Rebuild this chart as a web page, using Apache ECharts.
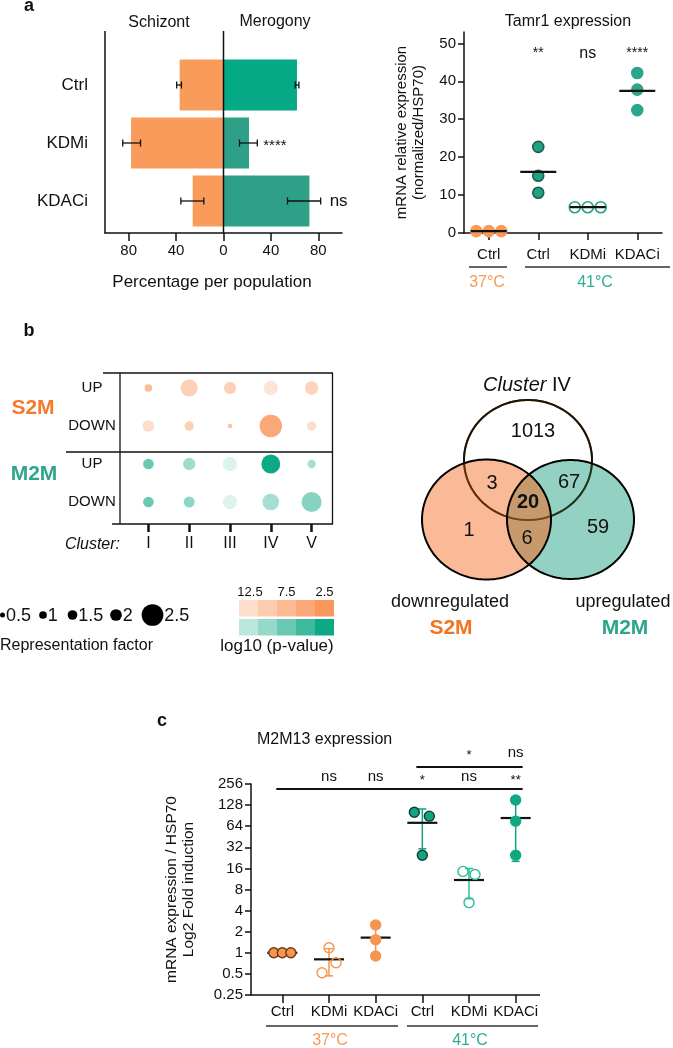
<!DOCTYPE html>
<html>
<head>
<meta charset="utf-8">
<script src="https://cdn.jsdelivr.net/npm/echarts@6.0.0/dist/echarts.min.js"></script>
<style>html,body{margin:0;padding:0;background:#fff;}#chart{width:673px;height:1048px;}</style>
</head>
<body>
<div id="chart"></div>
<script>
// ================= DATA =================
// Panel a (left): percentage per population
const popCategories = ['Ctrl', 'KDMi', 'KDACi'];
const schizontPct = [37, 78, 26];
const schizontErrLow = [35.5, 70, 16.6];
const schizontErrHigh = [39.5, 85, 36];
const merogonyPct = [62, 21.5, 72.5];
const merogonyErrLow = [60.5, 13.5, 54];
const merogonyErrHigh = [63.6, 28.5, 82];
const merogonySig = ['', '****', 'ns'];
const pctTicks = [-80, -40, 0, 40, 80];

// Panel a (right): Tamr1 expression
const tamrCategories = ['Ctrl', 'Ctrl', 'KDMi', 'KDACi'];
const tamrCtrl37 = [0.5, 0.5, 0.5];
const tamrCtrl41 = [22.7, 15.1, 10.6];
const tamrKDMi41 = [6.8, 6.8, 6.8];
const tamrKDACi41 = [42.2, 37.8, 32.4];
const tamrSig = ['', '**', 'ns', '****'];
const tamrTicks = [0, 10, 20, 30, 40, 50];

// Panel b: cluster dot plot (representation factor, log10 p-value)
const clusters = ['I', 'II', 'III', 'IV', 'V'];
const dotRows = ['UP', 'DOWN', 'UP', 'DOWN'];
const s2mUpRF = [1.0, 2.27, 2.03, 2.13, 2.08];
const s2mDownRF = [2.0, 1.4, 0.45, 2.53, 1.4];
const m2mUpRF = [1.75, 2.03, 2.13, 2.36, 1.15];
const m2mDownRF = [1.75, 1.83, 2.13, 2.25, 2.42];
const s2mUpP = [8, 10.5, 10.5, 13.5, 11];
const s2mDownP = [12.5, 10.5, 8.5, 5, 12.5];
const m2mUpP = [7.5, 10.5, 15, 2.5, 11];
const m2mDownP = [7.5, 9.5, 15, 11, 9];
const rfLegend = [0.5, 1, 1.5, 2, 2.5];
const pStops = [2.5, 5, 7.5, 10, 12.5, 15];
const pLegend = [12.5, 10, 7.5, 5, 2.5];
const pLegendLabels = ['12.5', '', '7.5', '', '2.5'];

// Venn (Cluster IV / downregulated S2M / upregulated M2M)
const vennRegions = ['IV only', 'IV&S2M', 'IV&M2M', 'all', 'S2M only', 'S2M&M2M', 'M2M only'];
const vennCounts = [1013, 3, 67, 20, 1, 6, 59];

// Panel c: M2M13 expression
const m2m13Categories = ['Ctrl', 'KDMi', 'KDACi', 'Ctrl', 'KDMi', 'KDACi'];
const m2m13Ctrl37 = [1, 1, 1];
const m2m13KDMi37 = [1.18, 0.72, 0.52];
const m2m13KDACi37 = [2.5, 1.54, 0.9];
const m2m13Ctrl41 = [101, 89, 24.6];
const m2m13KDMi41 = [14.5, 13.1, 5.2];
const m2m13KDACi41 = [151, 75.6, 24.6];
const log2Ticks = [0.25, 0.5, 1, 2, 4, 8, 16, 32, 64, 128, 256];
const sigLowerC = ['', 'ns', 'ns', '*', 'ns', '**'];
const sigUpperC = ['', '', '', '', '*', 'ns'];
const bracketFromC = [0, 3];
const bracketToC = [5, 5];

// ================= STYLES =================
const FONT = "'Liberation Sans', Arial, Helvetica, sans-serif";
const INK = '#111';
const SCHIZ = '#F99B5B';
const merogonyColors = ['#05A985', '#2EA088', '#2EA088'];
const ORANGE = '#F7944F';
const orangeStops = ['#F9975C', '#FBA878', '#FCBA93', '#FDCCAF', '#FDDECD', '#FEEDE4'];
const greenStops = ['#0DA985', '#3FB99D', '#6BC9B3', '#97D9C9', '#BDE7DC', '#DDF3EC'];
const rfSizesPx = [5, 7.7, 9.7, 11.7, 21.7];
const axisLS = { color: INK, width: 1.5 };

const tamrStyles = [
  { fill: '#F99A57', border: '#F99A57', jitter: [-12.5, 0, 12.5] },
  { fill: '#1EA283', border: '#1E5E4E', jitter: [0, 0, 0] },
  { fill: 'rgba(255,255,255,0)', border: '#2BA58A', jitter: [-13, 0, 13] },
  { fill: '#2BA58B', border: '#2BA58B', jitter: [0, 0, 0] }
];
const cStyles = [
  { fill: ORANGE, border: '#6B3A14', jitter: [-8.5, 0, 8.5], bar: ORANGE },
  { fill: 'rgba(255,255,255,0)', border: ORANGE, jitter: [0, 7, -7], bar: ORANGE },
  { fill: ORANGE, border: ORANGE, jitter: [0, 0, 0], bar: ORANGE },
  { fill: '#13A380', border: '#0E3E33', jitter: [-8, 7, 0], bar: '#13A380' },
  { fill: 'rgba(255,255,255,0)', border: '#2DBC9C', jitter: [-6, 6, 0], bar: '#2DBC9C' },
  { fill: '#0FA882', border: '#0FA882', jitter: [0, 0, 0], bar: '#0FA882' }
];

// ================= HELPERS =================
const mean = a => a.reduce((s, v) => s + v, 0) / a.length;
const sd = a => { const m = mean(a); return Math.sqrt(a.reduce((s, v) => s + (v - m) * (v - m), 0) / (a.length - 1)); };
function sizeForRF(rf) {
  const xs = rfLegend, ys = rfSizesPx, n = xs.length - 1;
  if (rf <= xs[0]) return ys[0] + (rf - xs[0]) * (ys[1] - ys[0]) / (xs[1] - xs[0]);
  for (let i = 1; i <= n; i++) if (rf <= xs[i]) return ys[i - 1] + (rf - xs[i - 1]) * (ys[i] - ys[i - 1]) / (xs[i] - xs[i - 1]);
  return ys[n] + (rf - xs[n]) * (ys[n] - ys[n - 1]) / (xs[n] - xs[n - 1]);
}
const T = (text, o) => Object.assign({ text, fontSize: 16, fontFamily: FONT, fill: INK, align: 'center', verticalAlign: 'middle', textAlign: 'center', textVerticalAlign: 'middle' }, o || {});

// ================= SERIES =================
const series = [];
const add = s => { series.push(Object.assign({ animation: false, silent: true }, s)); return series.length - 1; };

// a-left bars
add({ type: 'bar', xAxisIndex: 0, yAxisIndex: 0, barWidth: 51, barGap: '-100%', z: 2,
  data: schizontPct.map(v => -v), itemStyle: { color: SCHIZ } });
add({ type: 'bar', xAxisIndex: 0, yAxisIndex: 0, barWidth: 51, barGap: '-100%', z: 2,
  data: merogonyPct.map((v, i) => ({ value: v, itemStyle: { color: merogonyColors[i] } })) });
add({ type: 'custom', xAxisIndex: 0, yAxisIndex: 0, z: 5, clip: false, encode: { x: [1, 2], y: 0 },
  data: popCategories.map((c, i) => [i, -schizontErrHigh[i], -schizontErrLow[i], -1])
    .concat(popCategories.map((c, i) => [i, merogonyErrLow[i], merogonyErrHigh[i], i])),
  renderItem: (params, api) => {
    const cat = api.value(0), a = api.coord([api.value(1), cat]), b = api.coord([api.value(2), cat]);
    const st = { stroke: INK, lineWidth: 1.3 }, cap = 3.5;
    const ch = [
      { type: 'line', shape: { x1: a[0], y1: a[1], x2: b[0], y2: b[1] }, style: st },
      { type: 'line', shape: { x1: a[0], y1: a[1] - cap, x2: a[0], y2: a[1] + cap }, style: st },
      { type: 'line', shape: { x1: b[0], y1: b[1] - cap, x2: b[0], y2: b[1] + cap }, style: st }
    ];
    const si = api.value(3);
    if (si >= 0 && merogonySig[si]) {
      const isNs = merogonySig[si] === 'ns';
      ch.push({ type: 'text', x: b[0] + (isNs ? 9 : 6), y: b[1] + (isNs ? 0 : 3),
        style: T(merogonySig[si], { fontSize: isNs ? 17 : 15, align: 'left', textAlign: 'left' }) });
    }
    return { type: 'group', children: ch };
  } });

// a-right scatter
[tamrCtrl37, tamrCtrl41, tamrKDMi41, tamrKDACi41].forEach((vals, g) => {
  const st = tamrStyles[g];
  add({ type: 'scatter', xAxisIndex: 1, yAxisIndex: 1, symbolSize: 11, z: 3,
    data: vals.map((v, k) => ({ value: [g, v], symbolOffset: [st.jitter[k], 0] })),
    itemStyle: { color: st.fill, borderColor: st.border, borderWidth: 1.6, opacity: 1 } });
});
add({ type: 'scatter', xAxisIndex: 1, yAxisIndex: 1, symbol: 'rect', symbolSize: [36, 2.2], z: 4,
  data: [tamrCtrl37, tamrCtrl41, tamrKDMi41, tamrKDACi41].map((vals, g) => [g, mean(vals)]),
  itemStyle: { color: INK, opacity: 1 } });
add({ type: 'custom', xAxisIndex: 1, yAxisIndex: 1, z: 5, clip: false, encode: { x: 0, y: 1 },
  data: tamrSig.map((s, i) => [i, 50]),
  renderItem: (params, api) => {
    const p = api.coord([api.value(0), api.value(1)]);
    const s = tamrSig[params.dataIndex];
    if (!s) return null;
    return { type: 'text', x: p[0], y: p[1] + 10, style: T(s, { fontSize: s === 'ns' ? 16 : 14 }) };
  } });

// b dot plot
const s2mData = [], m2mData = [];
clusters.forEach((c, ci) => {
  s2mData.push([ci, 0, s2mUpRF[ci], s2mUpP[ci]]);
  s2mData.push([ci, 1, s2mDownRF[ci], s2mDownP[ci]]);
  m2mData.push([ci, 2, m2mUpRF[ci], m2mUpP[ci]]);
  m2mData.push([ci, 3, m2mDownRF[ci], m2mDownP[ci]]);
});
const iS2M = add({ type: 'scatter', xAxisIndex: 2, yAxisIndex: 2, data: s2mData, z: 3,
  symbolSize: v => sizeForRF(v[2]), itemStyle: { opacity: 1 } });
const iM2M = add({ type: 'scatter', xAxisIndex: 2, yAxisIndex: 2, data: m2mData, z: 3,
  symbolSize: v => sizeForRF(v[2]), itemStyle: { opacity: 1 } });

// c
const cGroups = [m2m13Ctrl37, m2m13KDMi37, m2m13KDACi37, m2m13Ctrl41, m2m13KDMi41, m2m13KDACi41];
add({ type: 'custom', xAxisIndex: 3, yAxisIndex: 3, z: 1, clip: false, encode: { x: 0, y: [1, 2] },
  data: cGroups.map((vals, g) => [g, mean(vals) - sd(vals), mean(vals) + sd(vals)]),
  renderItem: (params, api) => {
    const g = api.value(0), lo = api.value(1), hi = api.value(2);
    if (hi - lo < 1e-6) return null;
    const a = api.coord([g, hi]), b = api.coord([g, lo]);
    const st = { stroke: cStyles[g].bar, lineWidth: 1.5 }, cap = 4;
    return { type: 'group', children: [
      { type: 'line', shape: { x1: a[0], y1: a[1], x2: b[0], y2: b[1] }, style: st },
      { type: 'line', shape: { x1: a[0] - cap, y1: a[1], x2: a[0] + cap, y2: a[1] }, style: st },
      { type: 'line', shape: { x1: b[0] - cap, y1: b[1], x2: b[0] + cap, y2: b[1] }, style: st }
    ] };
  } });
add({ type: 'scatter', xAxisIndex: 3, yAxisIndex: 3, symbol: 'rect', symbolSize: [30, 2.2], z: 2,
  data: cGroups.map((vals, g) => [g, mean(vals)]), itemStyle: { color: INK, opacity: 1 } });
cGroups.forEach((vals, g) => {
  const st = cStyles[g];
  add({ type: 'scatter', xAxisIndex: 3, yAxisIndex: 3, symbolSize: 10, z: 3,
    data: vals.map((v, k) => ({ value: [g, v], symbolOffset: [st.jitter[k], 0] })),
    itemStyle: { color: st.fill, borderColor: st.border, borderWidth: 1.4, opacity: 1 } });
});
// significance brackets
add({ type: 'custom', xAxisIndex: 3, yAxisIndex: 3, z: 5, clip: false, encode: { x: [0, 1], y: 3 },
  data: bracketFromC.map((f, i) => [f, bracketToC[i], i, 256]),
  renderItem: (params, api) => {
    const a = api.coord([api.value(0), api.value(3)]), b = api.coord([api.value(1), api.value(3)]);
    const y = a[1] + (api.value(2) === 0 ? 5 : -17);
    return { type: 'line', shape: { x1: a[0] - 6, y1: y, x2: b[0] + 7, y2: y }, style: { stroke: INK, lineWidth: 2 } };
  } });
add({ type: 'custom', xAxisIndex: 3, yAxisIndex: 3, z: 5, clip: false, encode: { x: 0, y: 1 },
  data: m2m13Categories.map((c, i) => [i, 256]),
  renderItem: (params, api) => {
    const i = params.dataIndex, p = api.coord([api.value(0), api.value(1)]);
    const ch = [];
    const lo = sigLowerC[i], up = sigUpperC[i];
    if (lo) ch.push({ type: 'text', x: p[0], y: p[1] - (lo === 'ns' ? 7 : 4), style: T(lo, { fontSize: lo === 'ns' ? 15 : 13 }) });
    if (up) ch.push({ type: 'text', x: p[0], y: p[1] - (up === 'ns' ? 31 : 29), style: T(up, { fontSize: up === 'ns' ? 15 : 13 }) });
    return { type: 'group', children: ch };
  } });

// ================= OPTION =================
const grids = [
  { left: 105, top: 56, width: 237, height: 174 },
  { left: 464, top: 32, width: 198, height: 201 },
  { left: 128, top: 369, width: 204, height: 152 },
  { left: 259, top: 784, width: 280, height: 211 }
];
const lbl = o => Object.assign({ color: INK, fontFamily: FONT }, o);
const option = {
  animation: false,
  backgroundColor: '#fff',
  textStyle: { fontFamily: FONT, color: INK },
  grid: grids.map(g => Object.assign({ containLabel: false, outerBoundsMode: 'none' }, g)),
  xAxis: [
    { gridIndex: 0, type: 'value', min: -100, max: 100, offset: 3, splitLine: { show: false },
      axisLine: { show: true, lineStyle: axisLS },
      axisTick: { show: true, length: 8, customValues: pctTicks, lineStyle: axisLS },
      axisLabel: lbl({ customValues: pctTicks, formatter: v => String(Math.abs(v)), fontSize: 15, margin: 10 }) },
    { gridIndex: 1, type: 'category', data: tamrCategories,
      axisLine: { show: true, lineStyle: axisLS },
      axisTick: { show: true, alignWithLabel: true, interval: 0, length: 7, lineStyle: axisLS },
      axisLabel: lbl({ fontSize: 15, margin: 14, interval: 0, hideOverlap: false }) },
    { gridIndex: 2, type: 'category', data: clusters, offset: 3,
      axisLine: { show: false },
      axisTick: { show: true, alignWithLabel: true, interval: 0, length: 8, lineStyle: { color: INK, width: 2.5 } },
      axisLabel: lbl({ fontSize: 16, margin: 12, interval: 0 }) },
    { gridIndex: 3, type: 'category', data: m2m13Categories,
      axisLine: { show: false },
      axisTick: { show: true, alignWithLabel: true, interval: 0, length: 8, lineStyle: axisLS },
      axisLabel: lbl({ fontSize: 15, margin: 9, interval: 0, hideOverlap: false }) }
  ],
  yAxis: [
    { gridIndex: 0, type: 'category', data: popCategories, inverse: true,
      axisLine: { show: false },
      axisTick: { show: true, alignWithLabel: true, interval: 0, length: 7, lineStyle: axisLS },
      axisLabel: lbl({ fontSize: 17, margin: 17, interval: 0 }) },
    { gridIndex: 1, type: 'value', min: 0, max: 53, splitLine: { show: false },
      axisLine: { show: true, lineStyle: axisLS },
      axisTick: { show: true, length: 6, customValues: tamrTicks, lineStyle: axisLS },
      axisLabel: lbl({ customValues: tamrTicks, fontSize: 15, margin: 8 }),
      name: 'mRNA relative expression\n(normalized/HSP70)', nameLocation: 'middle', nameGap: 37,
      nameMoveOverlap: false,
      nameTextStyle: { fontSize: 15, lineHeight: 17, color: INK, fontFamily: FONT } },
    { gridIndex: 2, type: 'category', data: dotRows, inverse: true,
      axisLine: { show: false }, axisTick: { show: false },
      axisLabel: lbl({ fontSize: 15, margin: 36, align: 'center', interval: 0 }) },
    { gridIndex: 3, type: 'log', logBase: 2, min: 0.25, max: 256, offset: 8, splitLine: { show: false },
      axisLine: { show: true, lineStyle: axisLS },
      axisTick: { show: true, length: 6, customValues: log2Ticks, lineStyle: axisLS },
      axisLabel: lbl({ customValues: log2Ticks, fontSize: 15, margin: 8, formatter: v => String(+(+v).toPrecision(6)) }),
      name: 'mRNA expression / HSP70\nLog2 Fold induction', nameLocation: 'middle', nameGap: 54,
      nameMoveOverlap: false,
      nameTextStyle: { fontSize: 15.5, lineHeight: 17, color: INK, fontFamily: FONT } }
  ],
  visualMap: [
    { type: 'continuous', show: false, seriesIndex: iS2M, dimension: 3, min: pStops[0], max: pStops[pStops.length - 1], inRange: { color: orangeStops } },
    { type: 'continuous', show: false, seriesIndex: iM2M, dimension: 3, min: pStops[0], max: pStops[pStops.length - 1], inRange: { color: greenStops } }
  ],
  series
};

const chart = echarts.init(document.getElementById('chart'), null, { renderer: 'canvas' });
chart.setOption(option);

// ================= DECORATION (layout) =================
const els = [];
const text = (x, y, s, o, z) => els.push({ type: 'text', x, y, z: z || 20, silent: true, style: T(s, o) });
const line = (x1, y1, x2, y2, color, w, z) => els.push({ type: 'line', z: z || 20, silent: true, shape: { x1, y1, x2, y2 }, style: { stroke: color || INK, lineWidth: w || 1.5 } });

// panel letters
text(29, 6, 'a', { fontSize: 18, fontWeight: 'bold' });
text(29, 331, 'b', { fontSize: 18, fontWeight: 'bold' });
text(162, 721, 'c', { fontSize: 18, fontWeight: 'bold' });

// a-left
const zeroX = chart.convertToPixel({ xAxisIndex: 0 }, 0);
const leftX = chart.convertToPixel({ xAxisIndex: 0 }, -100);
line(leftX, 31, leftX, 233.5, INK, 1.5);
line(zeroX, 31, zeroX, 233, INK, 1.5);
text(159, 23, 'Schizont', { fontSize: 16 });
text(275, 22, 'Merogony', { fontSize: 16 });
text(212, 282, 'Percentage per population', { fontSize: 17 });

// a-right
text(568, 22, 'Tamr1 expression', { fontSize: 16 });
line(469, 267, 507, 267, '#333', 1.5);
line(525, 267, 670, 267, '#333', 1.5);
text(487, 283, '37°C', { fontSize: 16, fill: '#F79A55' });
text(595, 283, '41°C', { fontSize: 16, fill: '#2FAE93' });

// b dot plot frame
line(103, 373, 333, 373, INK, 1.3);
line(66, 452, 333, 452, INK, 1.3);
line(120, 373, 120, 524, INK, 1.3);
line(332.5, 373, 332.5, 524, INK, 1.3);
line(112, 524, 333, 524, INK, 1.5);
text(33, 408, 'S2M', { fontSize: 21, fontWeight: 'bold', fill: '#F47A2C' });
text(34, 474, 'M2M', { fontSize: 21, fontWeight: 'bold', fill: '#2FA68C' });
text(120, 545, 'Cluster:', { fontSize: 16, fontStyle: 'italic', align: 'right', textAlign: 'right' });

// b legends
const rfCenters = [2.5, 43, 72.5, 116, 152.5];
rfLegend.forEach((rf, i) => {
  const r = sizeForRF(rf) / 2;
  els.push({ type: 'circle', z: 20, silent: true, shape: { cx: rfCenters[i], cy: 615, r }, style: { fill: '#000' } });
  text(rfCenters[i] + r + 1, 616, String(rf), { fontSize: 18, align: 'left', textAlign: 'left' });
});
text(0, 646, 'Representation factor', { fontSize: 16, align: 'left', textAlign: 'left' });
pLegend.forEach((p, i) => {
  const k = pStops.indexOf(p);
  els.push({ type: 'rect', z: 20, silent: true, shape: { x: 239 + i * 19, y: 600, width: 19, height: 16.5 }, style: { fill: orangeStops[k] } });
  els.push({ type: 'rect', z: 20, silent: true, shape: { x: 239 + i * 19, y: 619, width: 19, height: 16.5 }, style: { fill: greenStops[k] } });
  if (pLegendLabels[i]) text(248.5 + i * 19 + (i === 0 ? 1.5 : 0), 592, pLegendLabels[i], { fontSize: 13 });
});
text(277, 646, 'log10 (p-value)', { fontSize: 17 });

// Venn
function ell(e, n) { const p = []; n = n || 180; for (let i = 0; i < n; i++) { const t = 2 * Math.PI * i / n; p.push([e.cx + e.rx * Math.cos(t), e.cy + e.ry * Math.sin(t)]); } return p; }
function inside(pt, e) { const dx = (pt[0] - e.cx) / e.rx, dy = (pt[1] - e.cy) / e.ry; return dx * dx + dy * dy <= 1.0001; }
const vTop = { cx: 528, cy: 460, rx: 64, ry: 60 };
const vLeft = { cx: 486.5, cy: 519.5, rx: 64.5, ry: 60 };
const vRight = { cx: 570.5, cy: 519.5, rx: 63.5, ry: 59.5 };
const poly = (pts, style, z) => els.push({ type: 'polygon', z, silent: true, shape: { points: pts }, style });
poly(ell(vTop), { fill: '#fff', stroke: '#000', lineWidth: 2 }, 10);
poly(ell(vLeft), { fill: 'rgba(245,130,65,0.55)' }, 11);
poly(ell(vRight), { fill: 'rgba(30,160,130,0.48)' }, 12);
let lens = ell(vLeft, 360).filter(p => inside(p, vRight)).concat(ell(vRight, 360).filter(p => inside(p, vLeft)));
const lc = [mean(lens.map(p => p[0])), mean(lens.map(p => p[1]))];
lens.sort((a, b) => Math.atan2(a[1] - lc[1], a[0] - lc[0]) - Math.atan2(b[1] - lc[1], b[0] - lc[0]));
poly(lens, { fill: 'rgba(216,147,97,0.75)' }, 13);
poly(ell(vTop), { fill: 'rgba(0,0,0,0)', stroke: 'rgba(60,30,0,0.6)', lineWidth: 2 }, 14);
poly(ell(vLeft), { fill: 'rgba(0,0,0,0)', stroke: '#000', lineWidth: 2 }, 15);
poly(ell(vRight), { fill: 'rgba(0,0,0,0)', stroke: '#000', lineWidth: 2 }, 15);
const vennLabelPos = [[533, 431], [492, 483], [569, 482], [528, 502], [469, 530], [527, 538], [598, 527]];
vennCounts.forEach((c, i) => text(vennLabelPos[i][0], vennLabelPos[i][1], String(c), { fontSize: 20, fontWeight: vennRegions[i] === 'all' ? 'bold' : 'normal' }));
els.push({ type: 'text', x: 527, y: 385, z: 20, silent: true,
  style: T('{i|Cluster} IV', { fontSize: 20, rich: { i: { fontStyle: 'italic', fontSize: 20, fontFamily: FONT, fill: INK } } }) });
text(450, 602, 'downregulated', { fontSize: 18 });
text(451, 628, 'S2M', { fontSize: 21, fontWeight: 'bold', fill: '#F4731F' });
text(623, 602, 'upregulated', { fontSize: 18 });
text(625, 628, 'M2M', { fontSize: 21, fontWeight: 'bold', fill: '#2BA58C' });

// c
text(257, 740, 'M2M13 expression', { fontSize: 16, align: 'left', textAlign: 'left' });
line(251, 995, 540, 995, INK, 1.5);
line(266, 1026, 398, 1026, '#333', 1.5);
line(407, 1026, 538, 1026, '#333', 1.5);
text(330, 1041, '37°C', { fontSize: 16, fill: '#F79A55' });
text(470, 1041, '41°C', { fontSize: 16, fill: '#2FAE93' });

chart.setOption({ graphic: { elements: els } });
</script>
</body>
</html>
